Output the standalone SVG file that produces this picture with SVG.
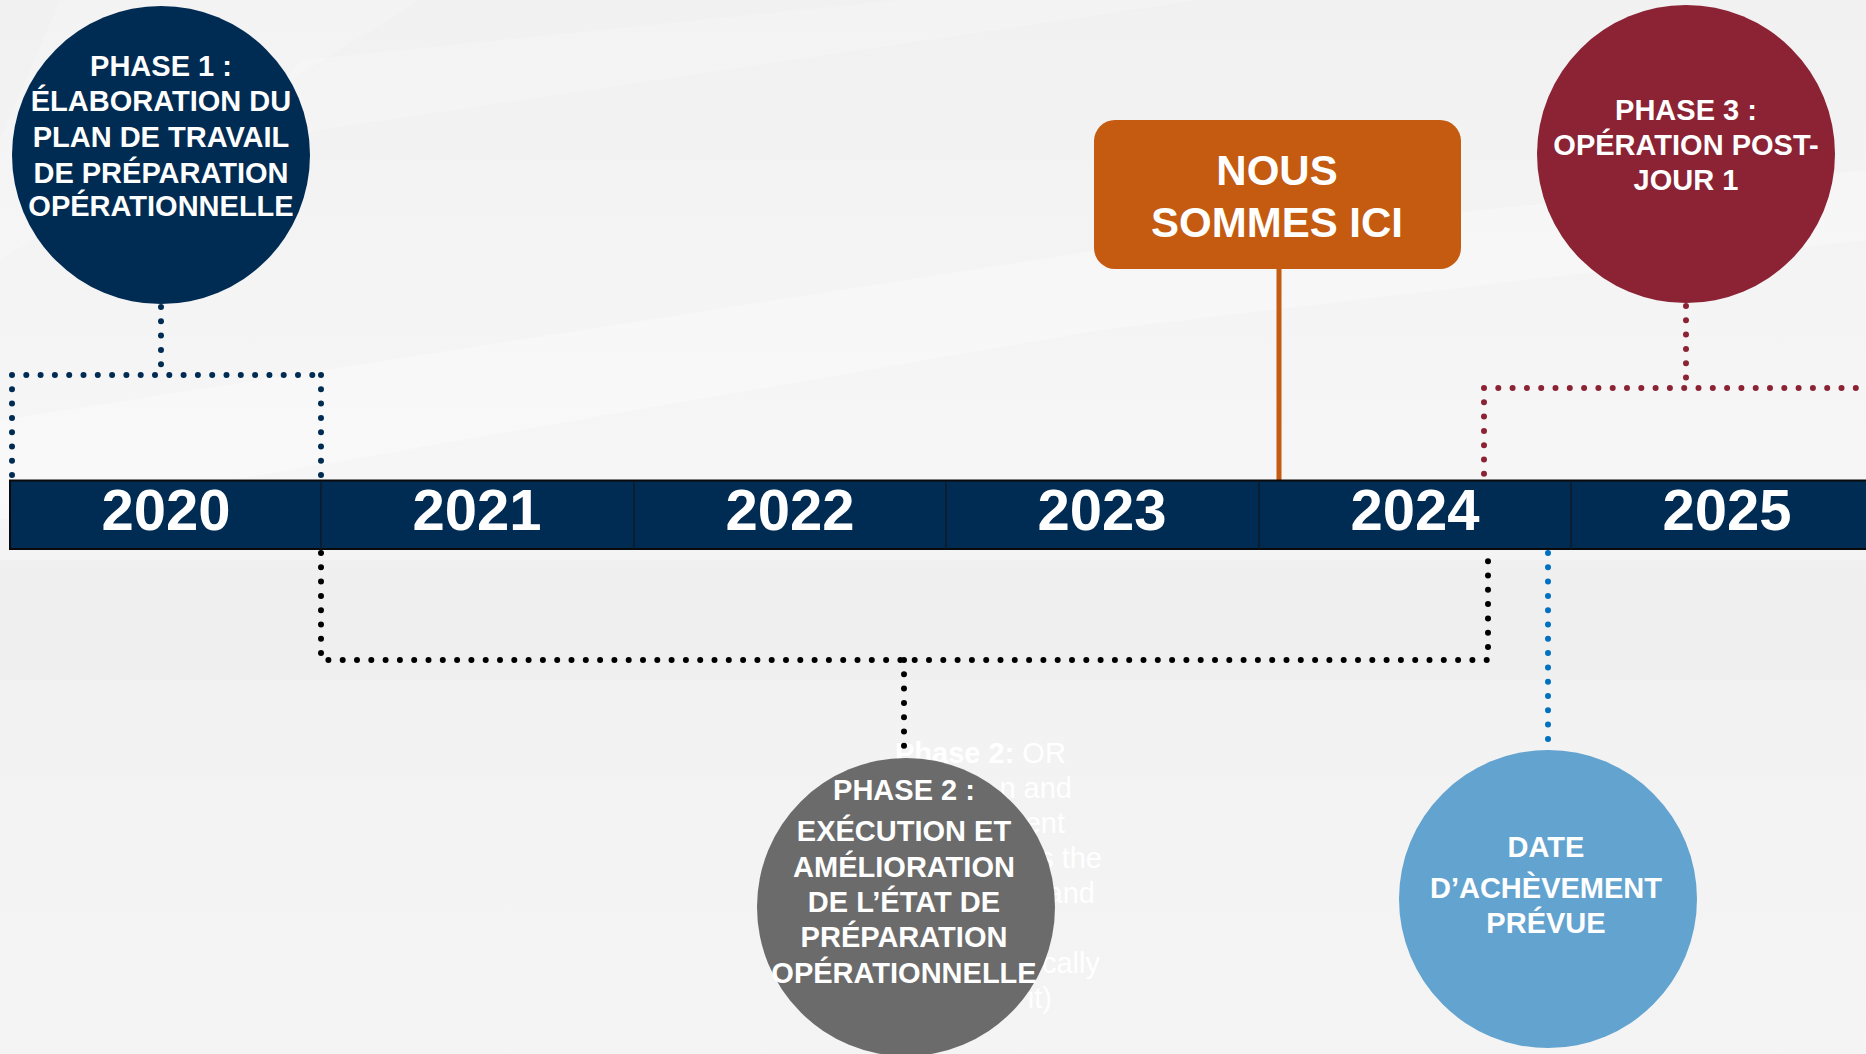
<svg xmlns="http://www.w3.org/2000/svg" width="1866" height="1054" viewBox="0 0 1866 1054">
  <defs>
    <linearGradient id="bgGrad" x1="0" y1="0" x2="0" y2="1">
      <stop offset="0" stop-color="#f1f1f1"/>
      <stop offset="0.45" stop-color="#f6f6f6"/>
      <stop offset="0.6" stop-color="#f2f2f2"/>
      <stop offset="1" stop-color="#f4f4f4"/>
    </linearGradient>
  </defs>
  <style>
    .lbl { font-family: "Liberation Sans", Arial, sans-serif; font-weight: bold; fill: #ffffff; text-anchor: middle; }
    .node { font-size: 29px; }
    .year { font-size: 58px; }
    .here { font-size: 42px; }
    .dots { fill: none; stroke-width: 6; stroke-linecap: round; stroke-dasharray: 0 14.3; }
    .ghost { font-family: "Liberation Sans", Arial, sans-serif; font-size: 29px; fill: #ffffff; }
  </style>

  <!-- background -->
  <rect x="0" y="0" width="1866" height="1054" fill="url(#bgGrad)"/>
  <polygon points="0,420 1100,250 1866,170 1866,240 1100,330 0,520" fill="#ffffff" opacity="0.3"/>
  <polygon points="60,0 420,0 0,260 0,140" fill="#ffffff" opacity="0.2"/>
  <polygon points="300,60 900,0 1200,0 250,140" fill="#ffffff" opacity="0.18"/>
  <rect x="0" y="560" width="1866" height="120" fill="#ececec" opacity="0.45"/>

  <!-- faint leftover text in the background -->
  <g id="ghost-text" class="ghost">
    <text x="895" y="763"><tspan font-weight="bold">Phase 2:</tspan> OR</text>
    <text x="1072" y="798" text-anchor="end">n and</text>
    <text x="1065" y="833" text-anchor="end">ent</text>
    <text x="1102" y="868" text-anchor="end">s the</text>
    <text x="1095" y="903" text-anchor="end">and</text>
    <text x="1100" y="973" text-anchor="end">cally</text>
    <text x="1052" y="1008" text-anchor="end">it)</text>
  </g>

  <!-- connectors -->
  <g id="connectors">
    <path class="dots" stroke="#002b53" d="M161,307 V375 M12,375 H321 M12,375 V481 M321,375 V481"/>
    <path class="dots" stroke="#000000" d="M321,553 V660 H1488 V553 M904,660 V752"/>
    <path class="dots" stroke="#8b2335" d="M1686,306 V388 M1484,388 H1866 M1484,388 V481"/>
    <path class="dots" stroke="#0070c0" d="M1548,553 V747"/>
    <line x1="1279" y1="268" x2="1279" y2="481" stroke="#c55a11" stroke-width="5"/>
  </g>

  <!-- timeline bar -->
  <g id="timeline">
    <rect x="10" y="480.5" width="1870" height="68.5" fill="#002b53" stroke="#0a0a0a" stroke-width="2"/>
    <g stroke="#0d1a28" stroke-width="1.5">
      <line x1="321" y1="481" x2="321" y2="549"/>
      <line x1="634" y1="481" x2="634" y2="549"/>
      <line x1="946" y1="481" x2="946" y2="549"/>
      <line x1="1259" y1="481" x2="1259" y2="549"/>
      <line x1="1571" y1="481" x2="1571" y2="549"/>
    </g>
    <text class="lbl year" x="166" y="530">2020</text>
    <text class="lbl year" x="477" y="530">2021</text>
    <text class="lbl year" x="790" y="530">2022</text>
    <text class="lbl year" x="1102" y="530">2023</text>
    <text class="lbl year" x="1415" y="530">2024</text>
    <text class="lbl year" x="1727" y="530">2025</text>
  </g>

  <g id="phase1">
    <circle cx="161" cy="155" r="149" fill="#002b53"/>
    <text class="lbl node" x="161" y="76">PHASE 1 :</text>
    <text class="lbl node" x="161" y="111">ÉLABORATION DU</text>
    <text class="lbl node" x="161" y="147">PLAN DE TRAVAIL</text>
    <text class="lbl node" x="161" y="183">DE PRÉPARATION</text>
    <text class="lbl node" x="161" y="216">OPÉRATIONNELLE</text>
  </g>

  <g id="nous-sommes-ici">
    <rect x="1094" y="120" width="367" height="149" rx="21" ry="21" fill="#c55a11"/>
    <text class="lbl here" x="1277" y="185">NOUS</text>
    <text class="lbl here" x="1277" y="237">SOMMES ICI</text>
  </g>

  <g id="phase3">
    <circle cx="1686" cy="154" r="149" fill="#8b2335"/>
    <text class="lbl node" x="1686" y="120">PHASE 3 :</text>
    <text class="lbl node" x="1686" y="155">OPÉRATION POST-</text>
    <text class="lbl node" x="1686" y="190">JOUR 1</text>
  </g>

  <g id="phase2">
    <circle cx="906" cy="907" r="149" fill="#6b6b6b"/>
    <text class="lbl node" x="904" y="800">PHASE 2 :</text>
    <text class="lbl node" x="904" y="841">EXÉCUTION ET</text>
    <text class="lbl node" x="904" y="877">AMÉLIORATION</text>
    <text class="lbl node" x="904" y="912">DE L’ÉTAT DE</text>
    <text class="lbl node" x="904" y="947">PRÉPARATION</text>
    <text class="lbl node" x="904" y="983">OPÉRATIONNELLE</text>
  </g>

  <g id="completion-date">
    <circle cx="1548" cy="899" r="149" fill="#63a3d0"/>
    <text class="lbl node" x="1546" y="857">DATE</text>
    <text class="lbl node" x="1546" y="898">D’ACHÈVEMENT</text>
    <text class="lbl node" x="1546" y="933">PRÉVUE</text>
  </g>
</svg>
